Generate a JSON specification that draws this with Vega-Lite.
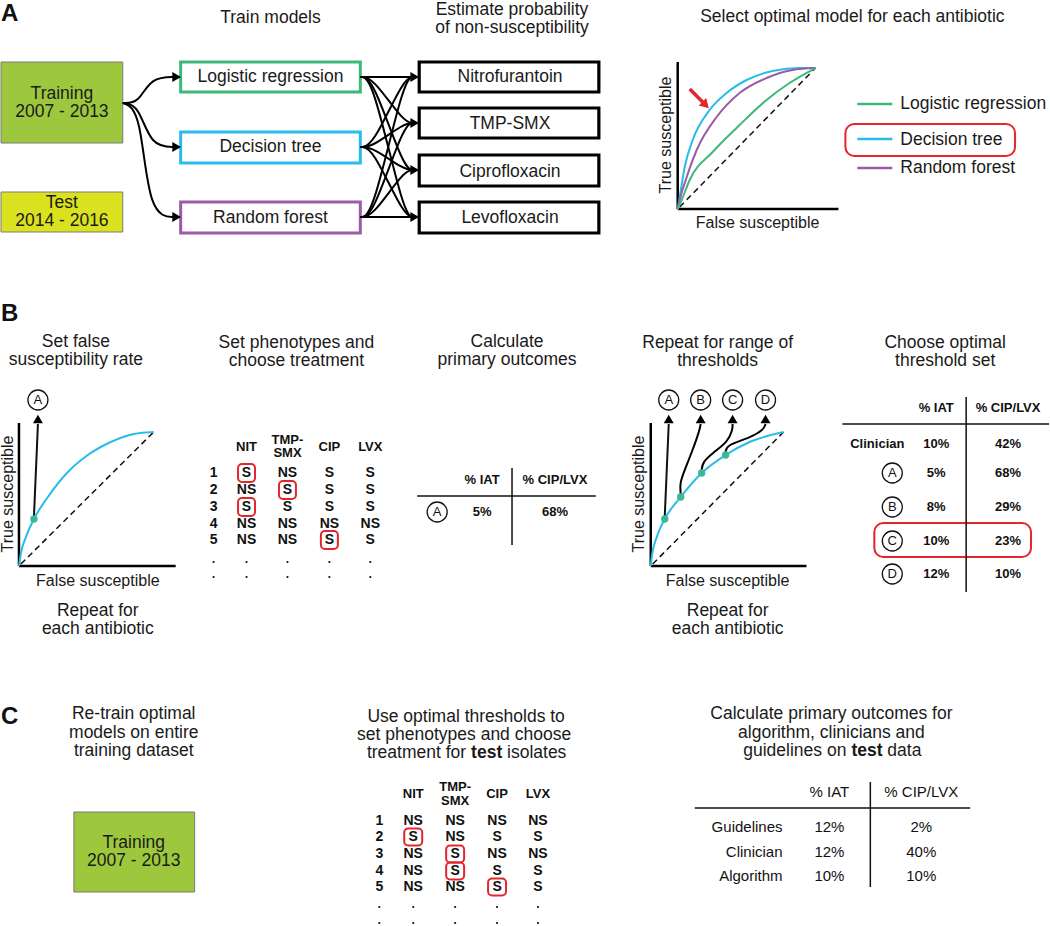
{
"$schema": "https://vega.github.io/schema/vega-lite/v6.json",
"width": 1050, "height": 926,
"autosize": {"type": "fit", "contains": "padding"},
"padding": 0,
"background": "white",
"config": {"view": {"stroke": null}},
"datasets": {
"rects": [
{"x":0,"x2":122,"y":62,"y2":143,"k":"train"},
{"x":0,"x2":122,"y":192,"y2":232,"k":"test"},
{"x":73,"x2":194,"y":812,"y2":892,"k":"train"},
{"x":180,"x2":360,"y":62,"y2":92,"k":"LR"},
{"x":180,"x2":360,"y":132,"y2":163,"k":"DT"},
{"x":180,"x2":360,"y":202,"y2":233,"k":"RF"},
{"x":419,"x2":599,"y":62,"y2":92,"k":"abx"},
{"x":419,"x2":599,"y":108,"y2":138,"k":"abx"},
{"x":419,"x2":599,"y":155,"y2":186,"k":"abx"},
{"x":419,"x2":599,"y":202,"y2":233,"k":"abx"},
{"x":846,"x2":1016,"y":124,"y2":156,"k":"hl"},
{"x":875,"x2":1032,"y":523,"y2":557,"k":"hl"},
{"x":237.5,"x2":254.5,"y":464,"y2":482,"k":"cell"},
{"x":278.5,"x2":295.5,"y":481,"y2":499,"k":"cell"},
{"x":237.5,"x2":254.5,"y":498,"y2":516,"k":"cell"},
{"x":320.5,"x2":337.5,"y":531,"y2":549,"k":"cell"},
{"x":404,"x2":422,"y":828.5,"y2":845.5,"k":"cell"},
{"x":446,"x2":464,"y":845.5,"y2":862.5,"k":"cell"},
{"x":446,"x2":464,"y":862.5,"y2":879.5,"k":"cell"},
{"x":488,"x2":506,"y":878.5,"y2":895.5,"k":"cell"}
],
"rules": [
{"x":678,"y":62,"x2":678,"y2":209,"k":"axis"},
{"x":678,"y":209,"x2":839,"y2":209,"k":"axis"},
{"x":18,"y":423,"x2":18,"y2":566,"k":"axis"},
{"x":18,"y":566,"x2":175,"y2":566,"k":"axis"},
{"x":651,"y":423,"x2":651,"y2":566,"k":"axis"},
{"x":651,"y":566,"x2":807,"y2":566,"k":"axis"},
{"x":417,"y":496,"x2":596,"y2":496,"k":"tbl"},
{"x":512,"y":468,"x2":512,"y2":545,"k":"tbl"},
{"x":843,"y":424,"x2":1050,"y2":424,"k":"tbl"},
{"x":967,"y":397,"x2":967,"y2":592,"k":"tbl"},
{"x":695,"y":808,"x2":971,"y2":808,"k":"tbl"},
{"x":871,"y":782,"x2":871,"y2":887,"k":"tbl"},
{"x":680,"y":207,"x2":816,"y2":68,"k":"dash"},
{"x":20,"y":564,"x2":153,"y2":432,"k":"dash"},
{"x":653,"y":564,"x2":784,"y2":432,"k":"dash"},
{"x":33,"y":517,"x2":37,"y2":424,"k":"arr"},
{"x":665,"y":517,"x2":669,"y2":424,"k":"arr"},
{"x":690,"y":89,"x2":704,"y2":103,"k":"red"}
],
"legend": [
{"x":858,"y":104,"x2":893,"y2":104,"s":"LR"},
{"x":858,"y":139,"x2":893,"y2":139,"s":"DT"},
{"x":858,"y":168,"x2":893,"y2":168,"s":"RF"}
],
"roc": [
{"id":"a_dt","s":"DT","o":0,"x":678,"y":209},{"id":"a_dt","s":"DT","o":1,"x":680,"y":197},{"id":"a_dt","s":"DT","o":2,"x":685,"y":167},{"id":"a_dt","s":"DT","o":3,"x":693,"y":140},{"id":"a_dt","s":"DT","o":4,"x":710,"y":110},{"id":"a_dt","s":"DT","o":5,"x":727,"y":93},{"id":"a_dt","s":"DT","o":6,"x":747,"y":80},{"id":"a_dt","s":"DT","o":7,"x":773,"y":71},{"id":"a_dt","s":"DT","o":8,"x":800,"y":68},{"id":"a_dt","s":"DT","o":9,"x":816,"y":68},
{"id":"a_rf","s":"RF","o":0,"x":678,"y":209},{"id":"a_rf","s":"RF","o":1,"x":680,"y":200},{"id":"a_rf","s":"RF","o":2,"x":687,"y":177},{"id":"a_rf","s":"RF","o":3,"x":697,"y":150},{"id":"a_rf","s":"RF","o":4,"x":717,"y":117},{"id":"a_rf","s":"RF","o":5,"x":740,"y":93},{"id":"a_rf","s":"RF","o":6,"x":767,"y":78},{"id":"a_rf","s":"RF","o":7,"x":793,"y":70},{"id":"a_rf","s":"RF","o":8,"x":816,"y":68},
{"id":"a_lr","s":"LR","o":0,"x":678,"y":209},{"id":"a_lr","s":"LR","o":1,"x":682,"y":200},{"id":"a_lr","s":"LR","o":2,"x":690,"y":180},{"id":"a_lr","s":"LR","o":3,"x":713,"y":152},{"id":"a_lr","s":"LR","o":4,"x":740,"y":125},{"id":"a_lr","s":"LR","o":5,"x":767,"y":100},{"id":"a_lr","s":"LR","o":6,"x":790,"y":83},{"id":"a_lr","s":"LR","o":7,"x":816,"y":68},
{"id":"b1","s":"DT","o":0,"x":18,"y":566},{"id":"b1","s":"DT","o":1,"x":20,"y":553},{"id":"b1","s":"DT","o":2,"x":25,"y":537},{"id":"b1","s":"DT","o":3,"x":33,"y":519},{"id":"b1","s":"DT","o":4,"x":47,"y":497},{"id":"b1","s":"DT","o":5,"x":67,"y":472},{"id":"b1","s":"DT","o":6,"x":87,"y":455},{"id":"b1","s":"DT","o":7,"x":110,"y":442},{"id":"b1","s":"DT","o":8,"x":133,"y":434},{"id":"b1","s":"DT","o":9,"x":153,"y":432},
{"id":"b2","s":"DT","o":0,"x":651,"y":566},{"id":"b2","s":"DT","o":1,"x":652,"y":557},{"id":"b2","s":"DT","o":2,"x":657,"y":537},{"id":"b2","s":"DT","o":3,"x":665,"y":519},{"id":"b2","s":"DT","o":4,"x":681,"y":497},{"id":"b2","s":"DT","o":5,"x":702,"y":473},{"id":"b2","s":"DT","o":6,"x":726,"y":455},{"id":"b2","s":"DT","o":7,"x":750,"y":442},{"id":"b2","s":"DT","o":8,"x":784,"y":432}
],
"paths": [
{"id":"t1","o":0,"x":122,"y":103},{"id":"t1","o":1,"x":138,"y":103},{"id":"t1","o":2,"x":150,"y":77},{"id":"t1","o":3,"x":176,"y":77},
{"id":"t2","o":0,"x":122,"y":103},{"id":"t2","o":1,"x":138,"y":105},{"id":"t2","o":2,"x":150,"y":147},{"id":"t2","o":3,"x":176,"y":147},
{"id":"t3","o":0,"x":122,"y":103},{"id":"t3","o":1,"x":140,"y":110},{"id":"t3","o":2,"x":148,"y":217},{"id":"t3","o":3,"x":176,"y":217},
{"id":"m11","o":0,"x":360,"y":77},{"id":"m11","o":1,"x":372,"y":77},{"id":"m11","o":2,"x":404,"y":77},{"id":"m11","o":3,"x":414,"y":77},
{"id":"m12","o":0,"x":360,"y":77},{"id":"m12","o":1,"x":372,"y":77},{"id":"m12","o":2,"x":404,"y":123},{"id":"m12","o":3,"x":414,"y":123},
{"id":"m13","o":0,"x":360,"y":77},{"id":"m13","o":1,"x":372,"y":77},{"id":"m13","o":2,"x":404,"y":170},{"id":"m13","o":3,"x":414,"y":170},
{"id":"m14","o":0,"x":360,"y":77},{"id":"m14","o":1,"x":372,"y":77},{"id":"m14","o":2,"x":404,"y":217},{"id":"m14","o":3,"x":414,"y":217},
{"id":"m21","o":0,"x":360,"y":147},{"id":"m21","o":1,"x":372,"y":147},{"id":"m21","o":2,"x":404,"y":77},{"id":"m21","o":3,"x":414,"y":77},
{"id":"m22","o":0,"x":360,"y":147},{"id":"m22","o":1,"x":372,"y":147},{"id":"m22","o":2,"x":404,"y":123},{"id":"m22","o":3,"x":414,"y":123},
{"id":"m23","o":0,"x":360,"y":147},{"id":"m23","o":1,"x":372,"y":147},{"id":"m23","o":2,"x":404,"y":170},{"id":"m23","o":3,"x":414,"y":170},
{"id":"m24","o":0,"x":360,"y":147},{"id":"m24","o":1,"x":372,"y":147},{"id":"m24","o":2,"x":404,"y":217},{"id":"m24","o":3,"x":414,"y":217},
{"id":"m31","o":0,"x":360,"y":217},{"id":"m31","o":1,"x":372,"y":217},{"id":"m31","o":2,"x":404,"y":77},{"id":"m31","o":3,"x":414,"y":77},
{"id":"m32","o":0,"x":360,"y":217},{"id":"m32","o":1,"x":372,"y":217},{"id":"m32","o":2,"x":404,"y":123},{"id":"m32","o":3,"x":414,"y":123},
{"id":"m33","o":0,"x":360,"y":217},{"id":"m33","o":1,"x":372,"y":217},{"id":"m33","o":2,"x":404,"y":170},{"id":"m33","o":3,"x":414,"y":170},
{"id":"m34","o":0,"x":360,"y":217},{"id":"m34","o":1,"x":372,"y":217},{"id":"m34","o":2,"x":404,"y":217},{"id":"m34","o":3,"x":414,"y":217},
{"id":"pb","o":0,"x":681,"y":494},{"id":"pb","o":1,"x":680,"y":483},{"id":"pb","o":2,"x":685,"y":470},{"id":"pb","o":3,"x":693,"y":450},{"id":"pb","o":4,"x":700,"y":430},{"id":"pb","o":5,"x":701,"y":424},
{"id":"pc","o":0,"x":702,"y":470},{"id":"pc","o":1,"x":703,"y":462},{"id":"pc","o":2,"x":713,"y":453},{"id":"pc","o":3,"x":728,"y":442},{"id":"pc","o":4,"x":733,"y":430},{"id":"pc","o":5,"x":733,"y":424},
{"id":"pd","o":0,"x":726,"y":452},{"id":"pd","o":1,"x":727,"y":445},{"id":"pd","o":2,"x":750,"y":438},{"id":"pd","o":3,"x":764,"y":430},{"id":"pd","o":4,"x":766,"y":424}
],
"headsR": [{"x":176,"y":77},{"x":176,"y":147},{"x":176,"y":217},{"x":414.5,"y":77},{"x":414.5,"y":123},{"x":414.5,"y":170},{"x":414.5,"y":217}],
"headsU": [{"x":37,"y":419},{"x":669,"y":419},{"x":701,"y":419},{"x":733,"y":419},{"x":766,"y":419}],
"headRed": [{"x":706,"y":105}],
"dots": [{"x":33,"y":519},{"x":665,"y":519},{"x":681,"y":497},{"x":702,"y":473},{"x":726,"y":455}],
"circles": [
{"x":37,"y":400,"t":"A"},{"x":669,"y":400,"t":"A"},{"x":701,"y":400,"t":"B"},{"x":733,"y":400,"t":"C"},{"x":766,"y":400,"t":"D"},
{"x":437,"y":512,"t":"A"},{"x":893,"y":473,"t":"A"},{"x":893,"y":507,"t":"B"},{"x":893,"y":541,"t":"C"},{"x":893,"y":574,"t":"D"}
],
"small": [
{"x":213,"y":562},{"x":246,"y":562},{"x":287,"y":562},{"x":329,"y":562},{"x":370,"y":562},
{"x":213,"y":577},{"x":246,"y":577},{"x":287,"y":577},{"x":329,"y":577},{"x":370,"y":577},
{"x":379,"y":907},{"x":413,"y":907},{"x":455,"y":907},{"x":497,"y":907},{"x":538,"y":907},
{"x":379,"y":923},{"x":413,"y":923},{"x":455,"y":923},{"x":497,"y":923},{"x":538,"y":923}
],
"txt": [
{"t":"A","x":0,"y":14,"g":"panel"},{"t":"B","x":0,"y":314,"g":"panel"},{"t":"C","x":0,"y":717,"g":"panel"},
{"t":"Train models","x":270,"y":18,"g":"t18"},
{"t":"Estimate probability","x":512,"y":9.5,"g":"t18"},
{"t":"of non-susceptibility","x":512,"y":28,"g":"t18"},
{"t":"Select optimal model for each antibiotic","x":853,"y":17,"g":"t18"},
{"t":"Training","x":61,"y":94,"g":"t18"},{"t":"2007 - 2013","x":61,"y":112,"g":"t18"},
{"t":"Test","x":61,"y":203,"g":"t18"},{"t":"2014 - 2016","x":61,"y":221,"g":"t18"},
{"t":"Logistic regression","x":270,"y":77,"g":"t18"},
{"t":"Decision tree","x":270,"y":147,"g":"t18"},
{"t":"Random forest","x":270,"y":218,"g":"t18"},
{"t":"Nitrofurantoin","x":510,"y":77,"g":"t18"},
{"t":"TMP-SMX","x":510,"y":124,"g":"t18"},
{"t":"Ciprofloxacin","x":510,"y":172,"g":"t18"},
{"t":"Levofloxacin","x":510,"y":218,"g":"t18"},
{"t":"Set false","x":75,"y":342,"g":"t18"},{"t":"susceptibility rate","x":75,"y":360,"g":"t18"},
{"t":"Set phenotypes and","x":296,"y":343,"g":"t18"},{"t":"choose treatment","x":296,"y":361,"g":"t18"},
{"t":"Calculate","x":507,"y":342,"g":"t18"},{"t":"primary outcomes","x":507,"y":360,"g":"t18"},
{"t":"Repeat for range of","x":718,"y":343,"g":"t18"},{"t":"thresholds","x":718,"y":361,"g":"t18"},
{"t":"Choose optimal","x":946,"y":343,"g":"t18"},{"t":"threshold set","x":946,"y":361,"g":"t18"},
{"t":"Repeat for","x":97,"y":611,"g":"t18"},{"t":"each antibiotic","x":97,"y":629,"g":"t18"},
{"t":"Repeat for","x":728,"y":611,"g":"t18"},{"t":"each antibiotic","x":728,"y":629,"g":"t18"},
{"t":"Re-train optimal","x":133,"y":714,"g":"t18"},{"t":"models on entire","x":133,"y":732.5,"g":"t18"},{"t":"training dataset","x":133,"y":751,"g":"t18"},
{"t":"Training","x":133,"y":843,"g":"t18"},{"t":"2007 - 2013","x":133,"y":861,"g":"t18"},
{"t":"Use optimal thresholds to","x":466,"y":717,"g":"t18"},
{"t":"set phenotypes and choose","x":464,"y":735,"g":"t18"},
{"t":"Calculate primary outcomes for","x":832,"y":714,"g":"t18"},
{"t":"algorithm, clinicians and","x":832,"y":732.5,"g":"t18"},
{"t":"Logistic regression","x":901,"y":104,"g":"l18"},
{"t":"Decision tree","x":901,"y":140,"g":"l18"},
{"t":"Random forest","x":901,"y":168,"g":"l18"},
{"t":"isolates","x":507,"y":753,"g":"l18"},
{"t":"data","x":888,"y":751,"g":"l18"},
{"t":"treatment for","x":466,"y":753,"g":"r18"},
{"t":"guidelines on","x":847,"y":751,"g":"r18"},
{"t":"test","x":471,"y":753,"g":"b18"},
{"t":"test","x":852,"y":751,"g":"b18"},
{"t":"False susceptible","x":758,"y":223,"g":"ax16"},
{"t":"False susceptible","x":97,"y":581,"g":"ax16"},
{"t":"False susceptible","x":728,"y":581,"g":"ax16"},
{"t":"True susceptible","x":666,"y":135,"g":"rot16"},
{"t":"True susceptible","x":7,"y":494,"g":"rot16"},
{"t":"True susceptible","x":639,"y":494,"g":"rot16"},
{"t":"% IAT","x":482,"y":480,"g":"tb13"},{"t":"% CIP/LVX","x":555,"y":480,"g":"tb13"},
{"t":"5%","x":482,"y":512,"g":"tb13"},{"t":"68%","x":555,"y":512,"g":"tb13"},
{"t":"% IAT","x":937,"y":408,"g":"tb13"},{"t":"% CIP/LVX","x":1009,"y":408,"g":"tb13"},
{"t":"Clinician","x":878,"y":444,"g":"tb13"},{"t":"10%","x":937,"y":444,"g":"tb13"},{"t":"42%","x":1009,"y":444,"g":"tb13"},
{"t":"5%","x":937,"y":473,"g":"tb13"},{"t":"68%","x":1009,"y":473,"g":"tb13"},
{"t":"8%","x":937,"y":507,"g":"tb13"},{"t":"29%","x":1009,"y":507,"g":"tb13"},
{"t":"10%","x":937,"y":541,"g":"tb13"},{"t":"23%","x":1009,"y":541,"g":"tb13"},
{"t":"12%","x":937,"y":574,"g":"tb13"},{"t":"10%","x":1009,"y":574,"g":"tb13"},
{"t":"NIT","x":246,"y":447,"g":"phh"},{"t":"TMP-","x":287,"y":440,"g":"phh"},{"t":"SMX","x":287,"y":453,"g":"phh"},{"t":"CIP","x":329,"y":447,"g":"phh"},{"t":"LVX","x":370,"y":447,"g":"phh"},
{"t":"NIT","x":413,"y":794,"g":"phh"},{"t":"TMP-","x":455,"y":787,"g":"phh"},{"t":"SMX","x":455,"y":801,"g":"phh"},{"t":"CIP","x":497,"y":794,"g":"phh"},{"t":"LVX","x":538,"y":794,"g":"phh"},
{"t":"1","x":213,"y":473,"g":"ph"},{"t":"S","x":246,"y":473,"g":"ph"},{"t":"NS","x":287,"y":473,"g":"ph"},{"t":"S","x":329,"y":473,"g":"ph"},{"t":"S","x":370,"y":473,"g":"ph"},
{"t":"2","x":213,"y":490,"g":"ph"},{"t":"NS","x":246,"y":490,"g":"ph"},{"t":"S","x":287,"y":490,"g":"ph"},{"t":"S","x":329,"y":490,"g":"ph"},{"t":"S","x":370,"y":490,"g":"ph"},
{"t":"3","x":213,"y":507,"g":"ph"},{"t":"S","x":246,"y":507,"g":"ph"},{"t":"S","x":287,"y":507,"g":"ph"},{"t":"S","x":329,"y":507,"g":"ph"},{"t":"S","x":370,"y":507,"g":"ph"},
{"t":"4","x":213,"y":524,"g":"ph"},{"t":"NS","x":246,"y":524,"g":"ph"},{"t":"NS","x":287,"y":524,"g":"ph"},{"t":"NS","x":329,"y":524,"g":"ph"},{"t":"NS","x":370,"y":524,"g":"ph"},
{"t":"5","x":213,"y":540,"g":"ph"},{"t":"NS","x":246,"y":540,"g":"ph"},{"t":"NS","x":287,"y":540,"g":"ph"},{"t":"S","x":329,"y":540,"g":"ph"},{"t":"S","x":370,"y":540,"g":"ph"},
{"t":"1","x":379,"y":821,"g":"ph"},{"t":"NS","x":413,"y":821,"g":"ph"},{"t":"NS","x":455,"y":821,"g":"ph"},{"t":"NS","x":497,"y":821,"g":"ph"},{"t":"NS","x":538,"y":821,"g":"ph"},
{"t":"2","x":379,"y":837,"g":"ph"},{"t":"S","x":413,"y":837,"g":"ph"},{"t":"NS","x":455,"y":837,"g":"ph"},{"t":"S","x":497,"y":837,"g":"ph"},{"t":"S","x":538,"y":837,"g":"ph"},
{"t":"3","x":379,"y":854,"g":"ph"},{"t":"NS","x":413,"y":854,"g":"ph"},{"t":"S","x":455,"y":854,"g":"ph"},{"t":"NS","x":497,"y":854,"g":"ph"},{"t":"NS","x":538,"y":854,"g":"ph"},
{"t":"4","x":379,"y":871,"g":"ph"},{"t":"NS","x":413,"y":871,"g":"ph"},{"t":"S","x":455,"y":871,"g":"ph"},{"t":"S","x":497,"y":871,"g":"ph"},{"t":"S","x":538,"y":871,"g":"ph"},
{"t":"5","x":379,"y":887,"g":"ph"},{"t":"NS","x":413,"y":887,"g":"ph"},{"t":"NS","x":455,"y":887,"g":"ph"},{"t":"S","x":497,"y":887,"g":"ph"},{"t":"S","x":538,"y":887,"g":"ph"},
{"t":"% IAT","x":830,"y":792,"g":"o15"},{"t":"% CIP/LVX","x":922,"y":792,"g":"o15"},
{"t":"12%","x":830,"y":827,"g":"o15"},{"t":"2%","x":922,"y":827,"g":"o15"},
{"t":"12%","x":830,"y":852,"g":"o15"},{"t":"40%","x":922,"y":852,"g":"o15"},
{"t":"10%","x":830,"y":876,"g":"o15"},{"t":"10%","x":922,"y":876,"g":"o15"},
{"t":"Guidelines","x":783,"y":827,"g":"o15r"},{"t":"Clinician","x":783,"y":852,"g":"o15r"},{"t":"Algorithm","x":783,"y":876,"g":"o15r"}
]
},
"encoding": {
"x": {"field":"x","type":"quantitative","scale":{"domain":[0,1050],"nice":false,"zero":false},"axis":null},
"y": {"field":"y","type":"quantitative","scale":{"domain":[0,926],"nice":false,"zero":false,"reverse":true},"axis":null}
},
"layer": [
{"data":{"name":"rects"},"transform":[{"filter":"datum.k==='train'||datum.k==='test'"}],
 "mark":{"type":"rect","stroke":"#7a7a7a","strokeWidth":1},
 "encoding":{"x2":{"field":"x2"},"y2":{"field":"y2"},
  "fill":{"field":"k","type":"nominal","scale":{"domain":["train","test"],"range":["#9dc83d","#dae21f"]},"legend":null}}},
{"data":{"name":"rects"},"transform":[{"filter":"datum.k==='LR'||datum.k==='DT'||datum.k==='RF'"}],
 "mark":{"type":"rect","fill":"white","strokeWidth":3},
 "encoding":{"x2":{"field":"x2"},"y2":{"field":"y2"},
  "stroke":{"field":"k","type":"nominal","scale":{"domain":["LR","DT","RF"],"range":["#3db879","#27bce9","#9b5ba6"]},"legend":null}}},
{"data":{"name":"rects"},"transform":[{"filter":"datum.k==='abx'"}],
 "mark":{"type":"rect","fill":"white","stroke":"#000","strokeWidth":3.2},
 "encoding":{"x2":{"field":"x2"},"y2":{"field":"y2"}}},
{"data":{"name":"rects"},"transform":[{"filter":"datum.k==='hl'"}],
 "mark":{"type":"rect","filled":false,"stroke":"#e3262b","strokeWidth":2,"cornerRadius":9},
 "encoding":{"x2":{"field":"x2"},"y2":{"field":"y2"}}},
{"data":{"name":"rects"},"transform":[{"filter":"datum.k==='cell'"}],
 "mark":{"type":"rect","filled":false,"stroke":"#e3262b","strokeWidth":2,"cornerRadius":4},
 "encoding":{"x2":{"field":"x2"},"y2":{"field":"y2"}}},
{"data":{"name":"rules"},"transform":[{"filter":"datum.k==='axis'"}],
 "mark":{"type":"rule","color":"#000","strokeWidth":2.5},
 "encoding":{"x2":{"field":"x2"},"y2":{"field":"y2"}}},
{"data":{"name":"rules"},"transform":[{"filter":"datum.k==='tbl'"}],
 "mark":{"type":"rule","color":"#111","strokeWidth":1.5},
 "encoding":{"x2":{"field":"x2"},"y2":{"field":"y2"}}},
{"data":{"name":"rules"},"transform":[{"filter":"datum.k==='dash'"}],
 "mark":{"type":"rule","color":"#111","strokeWidth":1.5,"strokeDash":[6,4]},
 "encoding":{"x2":{"field":"x2"},"y2":{"field":"y2"}}},
{"data":{"name":"rules"},"transform":[{"filter":"datum.k==='arr'"}],
 "mark":{"type":"rule","color":"#111","strokeWidth":2},
 "encoding":{"x2":{"field":"x2"},"y2":{"field":"y2"}}},
{"data":{"name":"rules"},"transform":[{"filter":"datum.k==='red'"}],
 "mark":{"type":"rule","color":"#e3262b","strokeWidth":3.5},
 "encoding":{"x2":{"field":"x2"},"y2":{"field":"y2"}}},
{"data":{"name":"legend"},
 "mark":{"type":"rule","strokeWidth":2.5},
 "encoding":{"x2":{"field":"x2"},"y2":{"field":"y2"},
  "color":{"field":"s","type":"nominal","scale":{"domain":["LR","DT","RF"],"range":["#3db879","#27bce9","#9b5ba6"]},"legend":null}}},
{"data":{"name":"roc"},
 "mark":{"type":"line","interpolate":"monotone","strokeWidth":2},
 "encoding":{"detail":{"field":"id"},"order":{"field":"o","type":"quantitative"},
  "color":{"field":"s","type":"nominal","scale":{"domain":["LR","DT","RF"],"range":["#3db879","#27bce9","#9b5ba6"]},"legend":null}}},
{"data":{"name":"paths"},
 "mark":{"type":"line","interpolate":"basis","strokeWidth":2,"color":"#000"},
 "encoding":{"detail":{"field":"id"},"order":{"field":"o","type":"quantitative"}}},
{"data":{"name":"headsR"},
 "mark":{"type":"point","shape":"triangle-right","filled":true,"color":"#000","size":100,"opacity":1},"encoding":{}},
{"data":{"name":"headsU"},
 "mark":{"type":"point","shape":"triangle-up","filled":true,"color":"#000","size":100,"opacity":1},"encoding":{}},
{"data":{"name":"headRed"},
 "mark":{"type":"point","shape":"triangle-up","filled":true,"color":"#e3262b","size":110,"angle":135,"opacity":1},"encoding":{}},
{"data":{"name":"dots"},
 "mark":{"type":"point","shape":"circle","filled":true,"color":"#3bb898","size":55,"opacity":1},"encoding":{}},
{"data":{"name":"small"},
 "mark":{"type":"point","shape":"circle","filled":true,"color":"#111","size":5,"opacity":1},"encoding":{}},
{"data":{"name":"circles"},
 "mark":{"type":"point","shape":"circle","filled":true,"fill":"white","stroke":"#111","strokeWidth":1.3,"size":400,"opacity":1},"encoding":{}},
{"data":{"name":"circles"},
 "mark":{"type":"text","font":"Liberation Sans","fontSize":13,"align":"center","baseline":"middle","color":"#111"},
 "encoding":{"text":{"field":"t"}}},
{"data":{"name":"txt"},"transform":[{"filter":"datum.g==='panel'"}],
 "mark":{"type":"text","font":"Liberation Sans","fontSize":24,"fontWeight":"bold","align":"left","baseline":"middle","color":"#111"},
 "encoding":{"text":{"field":"t"}}},
{"data":{"name":"txt"},"transform":[{"filter":"datum.g==='t18'"}],
 "mark":{"type":"text","font":"Liberation Sans","fontSize":17.5,"align":"center","baseline":"middle","color":"#1a1a1a"},
 "encoding":{"text":{"field":"t"}}},
{"data":{"name":"txt"},"transform":[{"filter":"datum.g==='l18'"}],
 "mark":{"type":"text","font":"Liberation Sans","fontSize":17.5,"align":"left","baseline":"middle","color":"#1a1a1a"},
 "encoding":{"text":{"field":"t"}}},
{"data":{"name":"txt"},"transform":[{"filter":"datum.g==='r18'"}],
 "mark":{"type":"text","font":"Liberation Sans","fontSize":17.5,"align":"right","baseline":"middle","color":"#1a1a1a"},
 "encoding":{"text":{"field":"t"}}},
{"data":{"name":"txt"},"transform":[{"filter":"datum.g==='b18'"}],
 "mark":{"type":"text","font":"Liberation Sans","fontSize":17.5,"fontWeight":"bold","align":"left","baseline":"middle","color":"#1a1a1a"},
 "encoding":{"text":{"field":"t"}}},
{"data":{"name":"txt"},"transform":[{"filter":"datum.g==='ax16'"}],
 "mark":{"type":"text","font":"Liberation Sans","fontSize":16,"align":"center","baseline":"middle","color":"#1a1a1a"},
 "encoding":{"text":{"field":"t"}}},
{"data":{"name":"txt"},"transform":[{"filter":"datum.g==='rot16'"}],
 "mark":{"type":"text","font":"Liberation Sans","fontSize":16,"align":"center","baseline":"middle","angle":270,"color":"#1a1a1a"},
 "encoding":{"text":{"field":"t"}}},
{"data":{"name":"txt"},"transform":[{"filter":"datum.g==='tb13'"}],
 "mark":{"type":"text","font":"Liberation Sans","fontSize":13,"fontWeight":"bold","align":"center","baseline":"middle","color":"#111"},
 "encoding":{"text":{"field":"t"}}},
{"data":{"name":"txt"},"transform":[{"filter":"datum.g==='phh'"}],
 "mark":{"type":"text","font":"Liberation Sans","fontSize":13,"fontWeight":"bold","align":"center","baseline":"middle","color":"#111"},
 "encoding":{"text":{"field":"t"}}},
{"data":{"name":"txt"},"transform":[{"filter":"datum.g==='ph'"}],
 "mark":{"type":"text","font":"Liberation Sans","fontSize":14,"fontWeight":"bold","align":"center","baseline":"middle","color":"#111"},
 "encoding":{"text":{"field":"t"}}},
{"data":{"name":"txt"},"transform":[{"filter":"datum.g==='o15'"}],
 "mark":{"type":"text","font":"Liberation Sans","fontSize":15,"align":"center","baseline":"middle","color":"#111"},
 "encoding":{"text":{"field":"t"}}},
{"data":{"name":"txt"},"transform":[{"filter":"datum.g==='o15r'"}],
 "mark":{"type":"text","font":"Liberation Sans","fontSize":15,"align":"right","baseline":"middle","color":"#111"},
 "encoding":{"text":{"field":"t"}}}
]
}
